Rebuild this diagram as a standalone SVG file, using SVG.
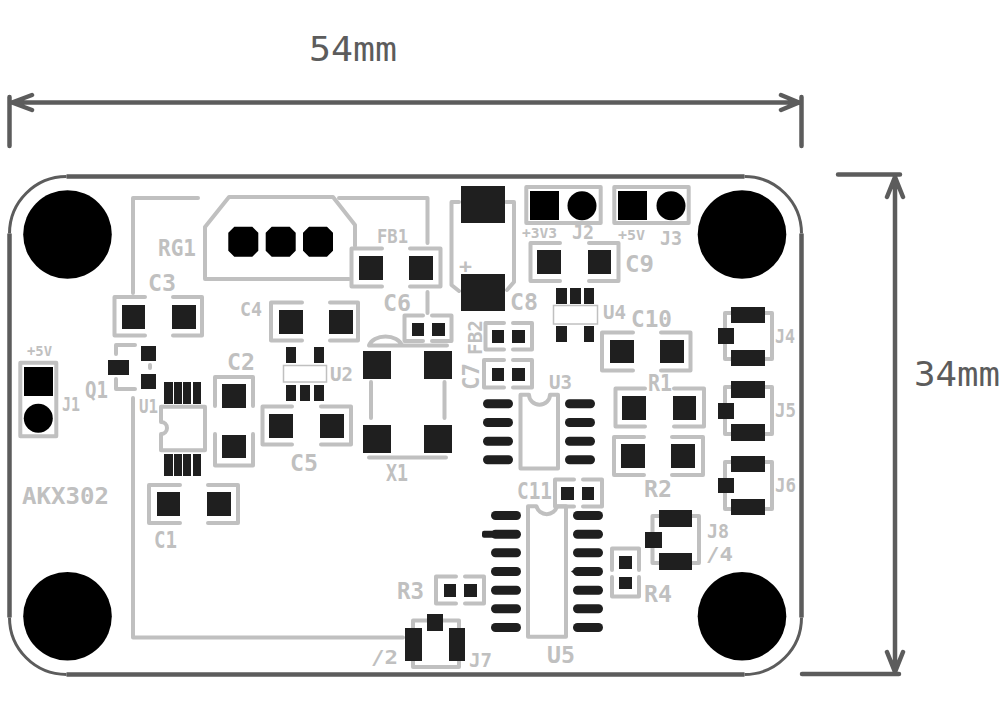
<svg xmlns="http://www.w3.org/2000/svg" width="1007" height="711" viewBox="0 0 1007 711">
<style>
.s{fill:none;stroke:#c0c0c0;stroke-width:4;stroke-linecap:round;stroke-linejoin:round}
.t{fill:#fff;stroke:#c0c0c0;stroke-width:1.5}
.d{fill:none;stroke:#5c5c5c;stroke-width:4.5;stroke-linecap:round;stroke-linejoin:round}
.a{fill:none;stroke:#5c5c5c;stroke-width:3}
.p{fill:#1f1f1f;stroke:none}
.h{fill:#000;stroke:none}
text{font-family:"DejaVu Sans Mono","Liberation Mono",monospace;font-weight:bold;fill:#c0c0c0}
.l{font-size:23.5px}.m{font-size:20px}.x{font-size:14px}
.b{font-size:33px;font-weight:normal;fill:#5c5c5c}
</style>
<rect width="1007" height="711" fill="#fff"/>
<g id="board"><path class="d" style="stroke-linecap:butt" d="M66.500 176.500H744.500M801.500 233.500V617.500M744.500 674.500H66.500M9.500 617.500V233.500"/>
<path class="a" d="M744.500 176.500A57 57 0 0 1 801.500 233.500M801.500 617.500A57 57 0 0 1 744.500 674.500M66.500 674.500A57 57 0 0 1 9.500 617.500M9.500 233.500A57 57 0 0 1 66.500 176.500"/>
<circle class="h" cx="67.500" cy="234.500" r="44.300"/><circle class="h" cx="67.500" cy="616.300" r="44.300"/><circle class="h" cx="742" cy="234.500" r="44.300"/><circle class="h" cx="742" cy="616.300" r="44.300"/></g>
<g id="connectors">
<path class="s" d="M198 198H133V293M133 398V637.500H403M339 198H427.500V243M427.500 292V313"/>
</g>
<g id="dimensions">
<path class="d" d="M9.500 102.500H801.500M9.500 97V146M801.500 97V146M32 95L12 102.500L32 110M781 95L799 102.500L781 110M895 175V673M838 174.500H900M802 674H899M887 197L895 177L903 197M887 652L895 672L903 652"/>
<text class="b" x="309" y="61" textLength="88" lengthAdjust="spacingAndGlyphs">54mm</text>
<text class="b" x="914" y="386" textLength="86" lengthAdjust="spacingAndGlyphs">34mm</text>
</g>
<g id="RG1"><path class="s" d="M349 279H205V227L229 197H333L355 225V246"/>
<path class="h" d="M234.300 226.700H252.300L258.300 232.700V250.700L252.300 256.700H234.300L228.300 250.700V232.700Z M271.700 226.700H289.700L295.700 232.700V250.700L289.700 256.700H271.700L265.700 250.700V232.700Z M309 226.700H327L333 232.700V250.700L327 256.700H309L303 250.700V232.700Z"/>
<text class="l" x="158" y="256" textLength="38" lengthAdjust="spacingAndGlyphs">RG1</text></g>
<g id="C3"><path class="s" d="M145 297H114.500V335.500H145M173 297H202V335.500H173"/><rect class="p" x="122" y="305" width="23" height="24"/><rect class="p" x="172" y="305" width="24" height="24"/><text class="l" x="148" y="291" textLength="28" lengthAdjust="spacingAndGlyphs">C3</text></g>
<g id="C4"><path class="s" d="M302 302.500H271V340.500H302M330 302.500H358V340.500H330"/><rect class="p" x="279" y="310" width="24" height="24"/><rect class="p" x="329" y="310" width="24" height="24"/><text class="m" x="240" y="316" textLength="22" lengthAdjust="spacingAndGlyphs">C4</text></g>
<g id="C5"><path class="s" d="M292 406.500H262.500V444.500H292M321 406.500H351V444.500H321"/><rect class="p" x="269" y="414" width="24" height="24"/><rect class="p" x="320" y="414" width="24" height="24"/><text class="l" x="290" y="471" textLength="28" lengthAdjust="spacingAndGlyphs">C5</text></g>
<g id="C1"><path class="s" d="M180 485H149V523H180M208 485H238V523H208"/><rect class="p" x="157" y="492" width="23" height="24"/><rect class="p" x="207" y="492" width="24" height="24"/><text class="l" x="154" y="548" textLength="23" lengthAdjust="spacingAndGlyphs">C1</text></g>
<g id="C2"><path class="s" d="M215 406V377H253V406M215 434V465.500H253V434"/><rect class="p" x="222" y="384" width="24" height="24"/><rect class="p" x="222" y="435" width="24" height="23"/><text class="l" x="227" y="370" textLength="28" lengthAdjust="spacingAndGlyphs">C2</text></g>
<g id="FB1"><path class="s" d="M382 248.500H351.500V286.500H382M410 248.500H440.500V286.500H410"/><rect class="p" x="359" y="256" width="24" height="24"/><rect class="p" x="409" y="256" width="24" height="24"/><text class="m" x="377" y="243" textLength="31" lengthAdjust="spacingAndGlyphs">FB1</text></g>
<g id="C9"><path class="s" d="M560 243H530.500V281H560M589 243H618.500V281H589"/><rect class="p" x="537" y="250" width="24" height="24"/><rect class="p" x="588" y="250" width="23" height="24"/><text class="l" x="625" y="272" textLength="29" lengthAdjust="spacingAndGlyphs">C9</text></g>
<g id="C10"><path class="s" d="M633 332.500H602V370.500H633M661 332.500H690.500V370.500H661"/><rect class="p" x="610" y="340" width="24" height="23"/><rect class="p" x="660" y="340" width="24" height="23"/><text class="l" x="631" y="327" textLength="41" lengthAdjust="spacingAndGlyphs">C10</text></g>
<g id="R1"><path class="s" d="M645 388.500H615.500V426.500H645M674 388.500H704V426.500H674"/><rect class="p" x="622" y="396" width="24" height="24"/><rect class="p" x="673" y="396" width="23" height="24"/><text class="l" x="648" y="391" textLength="24" lengthAdjust="spacingAndGlyphs">R1</text></g>
<g id="R2"><path class="s" d="M644 437H614V475H644M672 437H703V475H672"/><rect class="p" x="621" y="444" width="24" height="24"/><rect class="p" x="671" y="444" width="24" height="24"/><text class="l" x="644" y="497" textLength="28" lengthAdjust="spacingAndGlyphs">R2</text></g>
<g id="C6"><path class="s" d="M423 315.500H404.500V341H423M432 315.500H451.500V341H432"/><rect class="p" x="412" y="323" width="12" height="13"/><rect class="p" x="432" y="323" width="13" height="13"/><text class="l" x="383" y="311" textLength="28" lengthAdjust="spacingAndGlyphs">C6</text></g>
<g id="FB2"><path class="s" d="M504 323H485.500V349.500H504M513 323H532V349.500H513"/><rect class="p" x="492" y="330" width="12" height="13"/><rect class="p" x="512" y="330" width="13" height="13"/><text class="m" transform="translate(482 355) rotate(-90)" textLength="35" lengthAdjust="spacingAndGlyphs">FB2</text></g>
<g id="C7"><path class="s" d="M504 360H484V387.500H504M513 360H532V387.500H513"/><rect class="p" x="492" y="368" width="12" height="13"/><rect class="p" x="512" y="368" width="13" height="13"/><text class="l" transform="translate(479 390) rotate(-90)" textLength="27" lengthAdjust="spacingAndGlyphs">C7</text></g>
<g id="C11"><path class="s" d="M574 479.500H555V506.500H574M583 479.500H602V506.500H583"/><rect class="p" x="561" y="487" width="13" height="13"/><rect class="p" x="582" y="487" width="12" height="13"/><text class="l" x="517" y="499" textLength="35" lengthAdjust="spacingAndGlyphs">C11</text></g>
<g id="R3"><path class="s" d="M456 576.500H436V603.500H456M465 576.500H484V603.500H465"/><rect class="p" x="444" y="584" width="12" height="13"/><rect class="p" x="464" y="584" width="13" height="13"/><text class="l" x="397" y="599" textLength="27" lengthAdjust="spacingAndGlyphs">R3</text></g>
<g id="R4"><path class="s" d="M612 570V548.500H639V570M612 577V596.500H639V577"/><rect class="p" x="619" y="556" width="13" height="13"/><rect class="p" x="619" y="577" width="13" height="12"/><text class="l" x="644" y="602" textLength="28" lengthAdjust="spacingAndGlyphs">R4</text></g>
<g id="C8"><path class="s" d="M459 202H451.500V285L459 291M506 202H514V282L507 290"/><rect class="p" x="461" y="186" width="44" height="37"/><rect class="p" x="461" y="274" width="44" height="37"/><text class="m" x="459" y="273" textLength="13" lengthAdjust="spacingAndGlyphs">+</text><text class="l" x="510" y="310" textLength="28" lengthAdjust="spacingAndGlyphs">C8</text></g>
<g id="J2"><rect class="s" x="526.300" y="187" width="74.400" height="36"/><rect class="h" x="530" y="191" width="29" height="29"/><circle class="h" cx="582" cy="205.700" r="14.500"/><text class="x" x="522" y="238" textLength="35" lengthAdjust="spacingAndGlyphs">+3V3</text><text class="m" x="572" y="239" textLength="22" lengthAdjust="spacingAndGlyphs">J2</text></g>
<g id="J3"><rect class="s" x="614.300" y="187" width="74.400" height="36"/><rect class="h" x="618" y="191" width="29" height="29"/><circle class="h" cx="671" cy="205.700" r="14.500"/><text class="x" x="618" y="240" textLength="27" lengthAdjust="spacingAndGlyphs">+5V</text><text class="m" x="660" y="245" textLength="22" lengthAdjust="spacingAndGlyphs">J3</text></g>
<g id="J1"><rect class="s" x="20.300" y="362.700" width="36" height="73.600"/><rect class="h" x="24" y="367" width="29" height="29"/><circle class="h" cx="38.300" cy="418.300" r="14.500"/><text class="x" x="27" y="356" textLength="25" lengthAdjust="spacingAndGlyphs">+5V</text><text class="m" x="62" y="411" textLength="18" lengthAdjust="spacingAndGlyphs">J1</text></g>
<g id="Q1"><path class="s" d="M135 345H116V354M116 379V389H135M150 365V368"/><rect class="p" x="108" y="360" width="21" height="15"/><rect class="p" x="141" y="346" width="15" height="15"/><rect class="p" x="141" y="374" width="15" height="15"/><text class="l" x="85" y="398" textLength="23" lengthAdjust="spacingAndGlyphs">Q1</text></g>
<g id="U2"><rect class="t" x="283.500" y="365.500" width="43" height="16.500"/><rect class="p" x="286" y="347" width="10" height="16"/><rect class="p" x="314" y="347" width="10" height="16"/><rect class="p" x="286" y="385" width="10" height="16"/><rect class="p" x="300" y="385" width="10" height="16"/><rect class="p" x="314" y="385" width="10" height="16"/><text class="m" x="330" y="381" textLength="23" lengthAdjust="spacingAndGlyphs">U2</text></g>
<g id="U4"><rect class="t" x="553.500" y="305.500" width="44" height="18.500"/><rect class="p" x="556" y="288" width="11" height="16"/><rect class="p" x="570" y="288" width="11" height="16"/><rect class="p" x="584" y="288" width="10" height="16"/><rect class="p" x="556" y="326" width="11" height="16"/><rect class="p" x="584" y="326" width="10" height="16"/><text class="m" x="603" y="319" textLength="23" lengthAdjust="spacingAndGlyphs">U4</text></g>
<g id="U1"><path class="s" d="M161 406.700H205V450.300H161V434A6 6 0 0 0 161 422Z"/><rect class="p" x="164" y="382" width="9" height="22"/><rect class="p" x="174" y="382" width="8" height="22"/><rect class="p" x="183" y="382" width="8" height="22"/><rect class="p" x="193" y="382" width="8" height="22"/><rect class="p" x="164" y="454" width="9" height="22"/><rect class="p" x="174" y="454" width="8" height="22"/><rect class="p" x="183" y="454" width="8" height="22"/><rect class="p" x="193" y="454" width="8" height="22"/><text class="m" x="139" y="413" textLength="19" lengthAdjust="spacingAndGlyphs">U1</text></g>
<g id="X1"><path class="s" d="M369 345.500A17 12 0 0 1 402 345.500M369 345.500H447M371 382V418M444.500 382V418M369 457.500H446"/><rect class="p" x="363" y="351" width="28" height="28"/><rect class="p" x="424" y="351" width="28" height="28"/><rect class="p" x="363" y="425" width="28" height="28"/><rect class="p" x="424" y="425" width="28" height="28"/><text class="l" x="386" y="481" textLength="22" lengthAdjust="spacingAndGlyphs">X1</text></g>
<g id="U3"><path class="s" d="M520.500 394.700H529A10.500 10 0 0 0 550 394.700H558V468.500H520.500Z"/><g class="p"><rect x="483" y="399.300" width="30" height="9" rx="4.500"/><rect x="483" y="418" width="30" height="9" rx="4.500"/><rect x="483" y="436.700" width="30" height="9" rx="4.500"/><rect x="483" y="455.300" width="30" height="9" rx="4.500"/><rect x="565" y="399.300" width="30" height="9" rx="4.500"/><rect x="565" y="418" width="30" height="9" rx="4.500"/><rect x="565" y="436.700" width="30" height="9" rx="4.500"/><rect x="565" y="455.300" width="30" height="9" rx="4.500"/></g><text class="m" x="549" y="389" textLength="23" lengthAdjust="spacingAndGlyphs">U3</text></g>
<g id="U5"><path class="s" d="M528 506.300H536.500A10.500 10 0 0 0 557 506.300H566V636.700H528Z"/><g class="p"><rect x="491" y="511" width="30" height="9" rx="4.500"/><rect x="491" y="529.700" width="30" height="9" rx="4.500"/><rect x="491" y="548.300" width="30" height="9" rx="4.500"/><rect x="491" y="567" width="30" height="9" rx="4.500"/><rect x="491" y="585.700" width="30" height="9" rx="4.500"/><rect x="491" y="604.300" width="30" height="9" rx="4.500"/><rect x="491" y="623" width="30" height="9" rx="4.500"/><rect x="573" y="511" width="30" height="9" rx="4.500"/><rect x="573" y="529.700" width="30" height="9" rx="4.500"/><rect x="573" y="548.300" width="30" height="9" rx="4.500"/><rect x="573" y="567" width="30" height="9" rx="4.500"/><rect x="573" y="585.700" width="30" height="9" rx="4.500"/><rect x="573" y="604.300" width="30" height="9" rx="4.500"/><rect x="573" y="623" width="30" height="9" rx="4.500"/><rect x="482" y="530.700" width="14" height="7" rx="2"/><path d="M571 571.500L576 568V575Z"/></g><text class="l" x="547" y="663" textLength="28" lengthAdjust="spacingAndGlyphs">U5</text></g>
<g id="J4"><path class="s" d="M731 313H725V328M725 344V359H731M765 313H772V359H765"/><rect class="p" x="731" y="307" width="34" height="16"/><rect class="p" x="731" y="350" width="34" height="16"/><rect class="p" x="718" y="328" width="16" height="16"/><text class="m" x="775" y="343" textLength="20" lengthAdjust="spacingAndGlyphs">J4</text></g>
<g id="J5"><path class="s" d="M731 387H725V403M725 419V434H731M765 387H772V434H765"/><rect class="p" x="731" y="381" width="34" height="17"/><rect class="p" x="731" y="424" width="34" height="17"/><rect class="p" x="718" y="403" width="16" height="16"/><text class="m" x="775" y="417" textLength="21" lengthAdjust="spacingAndGlyphs">J5</text></g>
<g id="J6"><path class="s" d="M731 462H725V478M725 493V509H731M765 462H772V509H765"/><rect class="p" x="731" y="456" width="34" height="16"/><rect class="p" x="731" y="499" width="34" height="16"/><rect class="p" x="718" y="478" width="16" height="15"/><text class="m" x="775" y="492" textLength="21" lengthAdjust="spacingAndGlyphs">J6</text></g>
<g id="J8"><path class="s" d="M659 516H652.500V532M652.500 548V563H659M692 516H699V563H692"/><rect class="p" x="659" y="510" width="33" height="17"/><rect class="p" x="659" y="553" width="33" height="17"/><rect class="p" x="645" y="532" width="17" height="16"/><text class="m" x="707" y="538" textLength="22" lengthAdjust="spacingAndGlyphs">J8</text><text class="m" x="706" y="561" textLength="27" lengthAdjust="spacingAndGlyphs">/4</text></g>
<g id="J7"><path class="s" d="M413 628V620.500H427M443 620.500H459V628M413 661V667H459V661"/><rect class="p" x="405" y="628" width="17" height="33"/><rect class="p" x="449" y="628" width="16" height="33"/><rect class="p" x="427" y="614" width="16" height="17"/><text class="m" x="371" y="664" textLength="27" lengthAdjust="spacingAndGlyphs">/2</text><text class="m" x="469" y="667" textLength="23" lengthAdjust="spacingAndGlyphs">J7</text></g>
<g id="label"><text class="l" x="22" y="504" textLength="87" lengthAdjust="spacingAndGlyphs">AKX302</text></g>
</svg>
